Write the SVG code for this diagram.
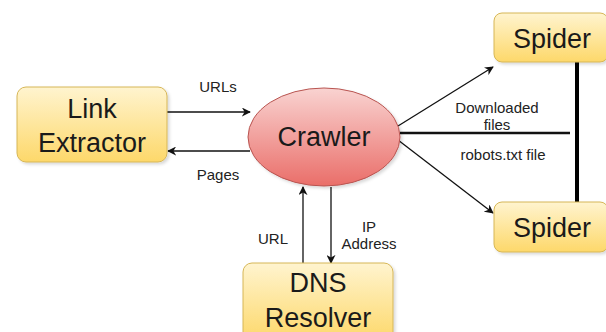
<svg xmlns="http://www.w3.org/2000/svg" width="606" height="332" viewBox="0 0 606 332">
<style>
.box{fill:url(#yg);stroke:#d6b656;stroke-width:1}
.big{font-family:"Liberation Sans",Arial,sans-serif;font-size:27px;fill:#1a1a1a;text-anchor:middle}
.lbl{font-family:"Liberation Sans",Arial,sans-serif;font-size:15px;fill:#222;text-anchor:middle}
.ln{stroke:#111;stroke-width:1.3;fill:none}
.thick{stroke:#000;stroke-width:4;fill:none}
</style>
<defs>
<linearGradient id="yg" x1="0" y1="0" x2="0" y2="1"><stop offset="0" stop-color="#fff4cf"/><stop offset="1" stop-color="#fdd86a"/></linearGradient>
<linearGradient id="rg" x1="0" y1="0" x2="0" y2="1"><stop offset="0" stop-color="#f9d3d1"/><stop offset="1" stop-color="#ea6e69"/></linearGradient>
<filter id="sh" x="-10%" y="-10%" width="130%" height="130%"><feDropShadow dx="2" dy="2" stdDeviation="1.5" flood-color="#000" flood-opacity="0.15"/></filter>
<marker id="ah" viewBox="0 0 10 10" refX="9" refY="5" markerWidth="9" markerHeight="9" markerUnits="userSpaceOnUse" orient="auto"><path d="M0,0 L10,5 L0,10 L3,5 z" fill="#111"/></marker>
</defs>
<rect width="606" height="332" fill="#fff"/>
<g id="connectors">
<line class="ln" x1="167" y1="112" x2="250" y2="112" marker-end="url(#ah)"/>
<line class="ln" x1="250" y1="151" x2="168" y2="151" marker-end="url(#ah)"/>
<line class="ln" x1="398" y1="126" x2="493" y2="67" marker-end="url(#ah)"/>
<line class="ln" x1="398" y1="140" x2="493" y2="213" marker-end="url(#ah)"/>
<line x1="400" y1="133" x2="570" y2="133" stroke="#111" stroke-width="2.5"/>
<line class="thick" x1="577" y1="62" x2="577" y2="202"/>
<line class="ln" x1="303" y1="263" x2="303" y2="187" marker-end="url(#ah)"/>
<line class="ln" x1="331" y1="187" x2="331" y2="263" marker-end="url(#ah)"/>
<text class="lbl" x="218" y="92">URLs</text>
<text class="lbl" x="218" y="180">Pages</text>
<text class="lbl" x="497" y="113">Downloaded</text>
<text class="lbl" x="497" y="130">files</text>
<text class="lbl" x="503" y="160">robots.txt file</text>
<text class="lbl" x="273" y="244">URL</text>
<text class="lbl" x="369" y="232">IP</text>
<text class="lbl" x="369" y="249">Address</text>
</g>
<g id="link-extractor">
<rect class="box" x="17" y="87" width="150" height="75" rx="9" filter="url(#sh)"/>
<text class="big" x="92" y="118">Link</text>
<text class="big" x="92" y="152">Extractor</text>
</g>
<g id="crawler">
<ellipse cx="324" cy="137" rx="76" ry="49" fill="url(#rg)" stroke="#b85450" stroke-width="1" filter="url(#sh)"/>
<text class="big" x="324" y="146">Crawler</text>
</g>
<g id="spider-top">
<rect class="box" x="494" y="13" width="114" height="49" rx="8" filter="url(#sh)"/>
<text class="big" x="552" y="48">Spider</text>
</g>
<g id="spider-bottom">
<rect class="box" x="494" y="202" width="114" height="50" rx="8" filter="url(#sh)"/>
<text class="big" x="552" y="237">Spider</text>
</g>
<g id="dns-resolver">
<rect class="box" x="243" y="263" width="150" height="78" rx="9" filter="url(#sh)"/>
<text class="big" x="318" y="292">DNS</text>
<text class="big" x="318" y="327">Resolver</text>
</g>
</svg>
